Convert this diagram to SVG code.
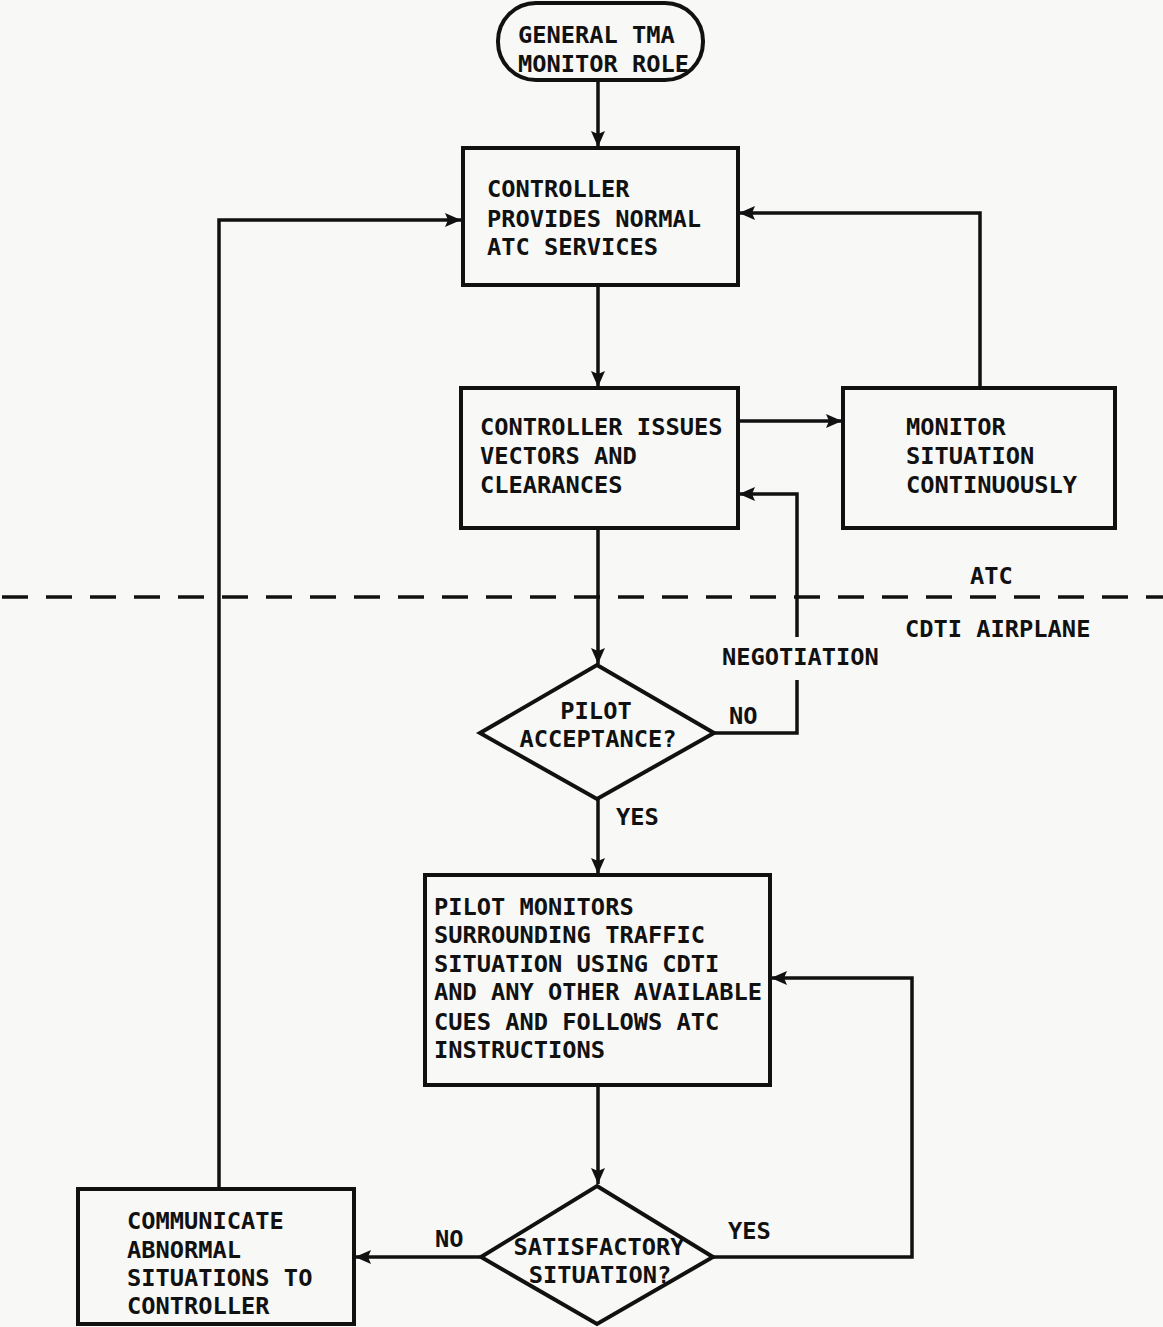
<svg xmlns="http://www.w3.org/2000/svg" width="1163" height="1327" viewBox="0 0 1163 1327">
<defs>
<marker id="ah" markerUnits="userSpaceOnUse" markerWidth="18" markerHeight="16" refX="16" refY="8" orient="auto">
<path d="M0,1 L16,8 L0,15 L3,8 z" fill="#111"/>
</marker>
<style>
.box{fill:none;stroke:#111;stroke-width:4}
.ln{fill:none;stroke:#111;stroke-width:3.5}
.t{font-family:"DejaVu Sans Mono","Liberation Mono",monospace;font-size:23.7px;font-weight:bold;fill:#111}
.c{text-anchor:middle}
</style>
</defs>
<rect x="0" y="0" width="1163" height="1327" fill="#f8f8f6"/>

<g id="connectors">
<line class="ln" x1="598" y1="80" x2="598" y2="147" marker-end="url(#ah)"/>
<line class="ln" x1="598" y1="285" x2="598" y2="387" marker-end="url(#ah)"/>
<line class="ln" x1="738" y1="421" x2="842" y2="421" marker-end="url(#ah)"/>
<polyline class="ln" points="980,388 980,213 739,213" marker-end="url(#ah)"/>
<line class="ln" x1="598" y1="528" x2="598" y2="664" marker-end="url(#ah)"/>
<polyline class="ln" points="713,733 797,733 797,680"/>
<polyline class="ln" points="797,637 797,494 739,494" marker-end="url(#ah)"/>
<line class="ln" x1="598" y1="799" x2="598" y2="874" marker-end="url(#ah)"/>
<line class="ln" x1="598" y1="1085" x2="598" y2="1184" marker-end="url(#ah)"/>
<polyline class="ln" points="712,1257 912,1257 912,978 771,978" marker-end="url(#ah)"/>
<line class="ln" x1="481" y1="1257" x2="355" y2="1257" marker-end="url(#ah)"/>
<polyline class="ln" points="219,1188 219,220 461,220" marker-end="url(#ah)"/>
<line x1="2" y1="597" x2="1163" y2="597" stroke="#111" stroke-width="3.5" stroke-dasharray="26 18"/>
</g>

<g id="start">
<rect class="box" x="498" y="3" width="205" height="77" rx="38" ry="38"/>
<text class="t" x="518" y="43">GENERAL TMA</text>
<text class="t" x="518" y="72">MONITOR ROLE</text>
</g>

<g id="provides">
<rect class="box" x="463" y="148" width="275" height="137"/>
<text class="t" x="487" y="197">CONTROLLER</text>
<text class="t" x="487" y="227">PROVIDES NORMAL</text>
<text class="t" x="487" y="255">ATC SERVICES</text>
</g>

<g id="issues">
<rect class="box" x="461" y="388" width="277" height="140"/>
<text class="t" x="480" y="435">CONTROLLER ISSUES</text>
<text class="t" x="480" y="464">VECTORS AND</text>
<text class="t" x="480" y="493">CLEARANCES</text>
</g>

<g id="monitor">
<rect class="box" x="843" y="388" width="272" height="140"/>
<text class="t" x="906" y="435">MONITOR</text>
<text class="t" x="906" y="464">SITUATION</text>
<text class="t" x="906" y="493">CONTINUOUSLY</text>
</g>

<g id="labels">
<text class="t" x="970" y="584">ATC</text>
<text class="t" x="905" y="637">CDTI AIRPLANE</text>
<text class="t" x="722" y="665">NEGOTIATION</text>
<text class="t" x="729" y="724">NO</text>
<text class="t" x="616" y="825">YES</text>
<text class="t" x="435" y="1247">NO</text>
<text class="t" x="728" y="1239">YES</text>
</g>

<g id="acceptance">
<polygon class="box" points="597,665 714,733 597,799 480,733"/>
<text class="t c" x="596" y="719">PILOT</text>
<text class="t c" x="598" y="747">ACCEPTANCE?</text>
</g>

<g id="pilot-monitors">
<rect class="box" x="425" y="875" width="345" height="210"/>
<text class="t" x="434" y="915">PILOT MONITORS</text>
<text class="t" x="434" y="943">SURROUNDING TRAFFIC</text>
<text class="t" x="434" y="972">SITUATION USING CDTI</text>
<text class="t" x="434" y="1000">AND ANY OTHER AVAILABLE</text>
<text class="t" x="434" y="1030">CUES AND FOLLOWS ATC</text>
<text class="t" x="434" y="1058">INSTRUCTIONS</text>
</g>

<g id="satisfactory">
<polygon class="box" points="597,1186 713,1257 597,1324 481,1257"/>
<text class="t c" x="599" y="1255">SATISFACTORY</text>
<text class="t c" x="600" y="1283">SITUATION?</text>
</g>

<g id="communicate">
<rect class="box" x="78" y="1189" width="276" height="135"/>
<text class="t" x="127" y="1229">COMMUNICATE</text>
<text class="t" x="127" y="1258">ABNORMAL</text>
<text class="t" x="127" y="1286">SITUATIONS TO</text>
<text class="t" x="127" y="1314">CONTROLLER</text>
</g>
</svg>
